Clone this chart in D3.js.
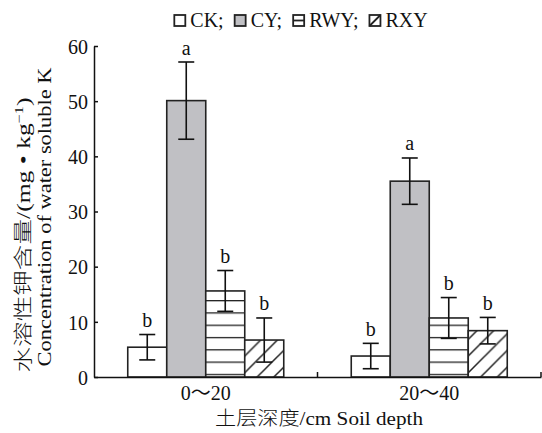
<!DOCTYPE html>
<html>
<head>
<meta charset="utf-8">
<script src="https://cdn.jsdelivr.net/npm/d3@7"></script>
<style>
  body { margin: 0; background: #fff; }
  svg { display: block; }
  svg text { font-family: "Liberation Serif", "Times New Roman", Times, "Noto Sans CJK SC", serif; fill: #111; }
  svg .cjk { font-family: "Noto Sans CJK SC", sans-serif; font-weight: 300; }
</style>
</head>
<body>
<div id="chart"></div>
<script>
// data
var groups = ["0～20", "20～40"];
var series = ["CK", "CY", "RWY", "RXY"];
var ckMean = [5.4, 3.8];
var ckErr = [2.3, 2.3];
var cyMean = [50.1, 35.5];
var cyErr = [7.0, 4.2];
var rwyMean = [15.6, 10.7];
var rwyErr = [3.7, 3.7];
var rxyMean = [6.7, 8.4];
var rxyErr = [4.0, 2.4];
var ckSig = ["b", "b"];
var cySig = ["a", "a"];
var rwySig = ["b", "b"];
var rxySig = ["b", "b"];
var yTicks = [0, 10, 20, 30, 40, 50, 60];

var svgWidth = 542, svgHeight = 433;
var margin = { top: 46, right: 1, bottom: 56, left: 94 };
var width = svgWidth - margin.left - margin.right;
var height = svgHeight - margin.top - margin.bottom;

var svg = d3.select("#chart").append("svg")
  .attr("width", svgWidth)
  .attr("height", svgHeight);

var chartGroup = svg.append("g")
  .attr("transform", `translate(${margin.left}, ${margin.top})`);

// build rows from the arrays
var means = { CK: ckMean, CY: cyMean, RWY: rwyMean, RXY: rxyMean };
var errs = { CK: ckErr, CY: cyErr, RWY: rwyErr, RXY: rxyErr };
var sigs = { CK: ckSig, CY: cySig, RWY: rwySig, RXY: rxySig };
var rows = [];
groups.forEach(function(g, i) {
  series.forEach(function(s) {
    rows.push({ group: g, key: s, gi: i, value: means[s][i], err: errs[s][i], sig: sigs[s][i] });
  });
});

var x0 = d3.scaleBand().domain(groups).range([0, width]);
var barsWidth = 156;
var x1 = d3.scaleBand().domain(series)
  .range([(x0.bandwidth() - barsWidth) / 2, (x0.bandwidth() + barsWidth) / 2]);
var y = d3.scaleLinear().domain([0, 60]).range([height, 0]);

// patterns
var defs = svg.append("defs");
var hp = defs.append("pattern")
  .attr("id", "hstripe")
  .attr("patternUnits", "userSpaceOnUse")
  .attr("x", 0).attr("y", margin.top + height)
  .attr("width", 20).attr("height", 12.3);
hp.append("rect").attr("width", 20).attr("height", 12.3).attr("fill", "#fff");
hp.append("line").attr("x1", 0).attr("x2", 20).attr("y1", 0).attr("y2", 0)
  .attr("stroke", "#222").attr("stroke-width", 2.6);

var step = 16.7;
groups.forEach(function(g, i) {
  var p = defs.append("pattern")
    .attr("id", "dstripe" + i)
    .attr("patternUnits", "userSpaceOnUse")
    .attr("x", margin.left + x0(g) + x1("RXY") + 6)
    .attr("y", margin.top + height)
    .attr("width", step).attr("height", step);
  p.append("rect").attr("width", step).attr("height", step).attr("fill", "#fff");
  p.append("path")
    .attr("d", `M0,${step} L${step},0 M${-step / 2},${step / 2} L${step / 2},${-step / 2} M${step / 2},${step * 1.5} L${step * 1.5},${step / 2}`)
    .attr("stroke", "#222").attr("stroke-width", 1.5);
});

var fills = { CK: "#fff", CY: "#c0c0c4", RWY: "url(#hstripe)" };

// bars
chartGroup.selectAll(".bar")
  .data(rows)
  .enter()
  .append("rect")
  .attr("class", "bar")
  .attr("x", d => x0(d.group) + x1(d.key))
  .attr("y", d => y(d.value))
  .attr("width", x1.bandwidth())
  .attr("height", d => y(0) - y(d.value))
  .attr("fill", d => d.key === "RXY" ? "url(#dstripe" + d.gi + ")" : fills[d.key])
  .attr("stroke", "#222")
  .attr("stroke-width", 1.6);

// error bars
var cap = 8;
var eb = chartGroup.selectAll(".err")
  .data(rows)
  .enter()
  .append("g")
  .attr("class", "err")
  .attr("stroke", "#111")
  .attr("stroke-width", 1.6)
  .attr("transform", d => `translate(${x0(d.group) + x1(d.key) + x1.bandwidth() / 2}, 0)`);
eb.append("line").attr("x1", 0).attr("x2", 0)
  .attr("y1", d => y(d.value + d.err)).attr("y2", d => y(d.value - d.err));
eb.append("line").attr("x1", -cap).attr("x2", cap)
  .attr("y1", d => y(d.value + d.err)).attr("y2", d => y(d.value + d.err));
eb.append("line").attr("x1", -cap).attr("x2", cap)
  .attr("y1", d => y(d.value - d.err)).attr("y2", d => y(d.value - d.err));

// significance letters
chartGroup.selectAll(".sig")
  .data(rows)
  .enter()
  .append("text")
  .attr("class", "sig")
  .attr("x", d => x0(d.group) + x1(d.key) + x1.bandwidth() / 2)
  .attr("y", d => y(d.value + d.err) - 7.5)
  .attr("text-anchor", "middle")
  .style("font-size", "20px")
  .text(d => d.sig);

// y axis
var leftAxis = d3.axisLeft(y).tickValues(yTicks).tickSizeInner(-4).tickSizeOuter(0).tickPadding(6);
var yAxisG = chartGroup.append("g").call(leftAxis);
yAxisG.selectAll("path, line").attr("stroke", "#111").attr("stroke-width", 1.5);
yAxisG.selectAll("text").style("font-size", "20px").attr("dy", "0.36em");

// x axis
var bottomAxis = d3.axisBottom(x0).tickSize(0).tickPadding(9);
var xAxisG = chartGroup.append("g")
  .attr("transform", `translate(0, ${height})`)
  .call(bottomAxis);
xAxisG.selectAll("path").attr("stroke", "#111").attr("stroke-width", 1.5);
xAxisG.selectAll("text").style("font-size", "20px").attr("dy", "0.71em");
// boundary ticks between groups
xAxisG.selectAll(".btick")
  .data(groups)
  .enter()
  .append("line")
  .attr("x1", d => x0(d) + x0.bandwidth())
  .attr("x2", d => x0(d) + x0.bandwidth())
  .attr("y1", 0).attr("y2", -5)
  .attr("stroke", "#111").attr("stroke-width", 1.5);

// axis titles
var xt = svg.append("text")
  .attr("x", 319).attr("y", 425)
  .attr("text-anchor", "middle")
  .attr("textLength", 208).attr("lengthAdjust", "spacingAndGlyphs")
  .style("font-size", "19px");
xt.append("tspan").attr("class", "cjk").text("土层深度");
xt.append("tspan").text("/cm Soil depth");

var t1 = svg.append("text")
  .attr("transform", "translate(30, 235) rotate(-90)")
  .attr("text-anchor", "middle")
  .attr("textLength", 275).attr("lengthAdjust", "spacingAndGlyphs")
  .style("font-size", "19px");
t1.append("tspan").attr("class", "cjk").text("水溶性钾含量");
t1.append("tspan").text("/(mg • kg");
t1.append("tspan").attr("dy", -7).style("font-size", "12px").text("−1");
t1.append("tspan").attr("dy", 7).text(")");

svg.append("text")
  .attr("transform", "translate(51, 217) rotate(-90)")
  .attr("text-anchor", "middle")
  .attr("textLength", 299).attr("lengthAdjust", "spacingAndGlyphs")
  .style("font-size", "19px")
  .text("Concentration of water soluble K");

// legend
var legendLabels = ["CK;", "CY;", "RWY;", "RXY"];
var legend = svg.append("g");
var lx = 0;
series.forEach(function(s, i) {
  var item = legend.append("g").attr("transform", `translate(${lx}, 0)`);
  item.append("rect").attr("x", 0).attr("y", 15).attr("width", 11).attr("height", 11)
    .attr("fill", s === "CY" ? "#c0c0c4" : "#fff")
    .attr("stroke", "#222").attr("stroke-width", 1.8);
  if (s === "RWY") {
    item.append("line").attr("x1", 0).attr("x2", 11).attr("y1", 20.5).attr("y2", 20.5)
      .attr("stroke", "#222").attr("stroke-width", 1.8);
  }
  if (s === "RXY") {
    item.append("line").attr("x1", 0).attr("x2", 11).attr("y1", 26).attr("y2", 15)
      .attr("stroke", "#222").attr("stroke-width", 1.8);
  }
  var t = item.append("text").attr("x", 16).attr("y", 27)
    .style("font-size", "20px").text(legendLabels[i]);
  lx += 16 + t.node().getComputedTextLength() + 11;
});
var lw = lx - 11;
legend.attr("transform", `translate(${301 - lw / 2}, 0)`);
</script>
</body>
</html>
